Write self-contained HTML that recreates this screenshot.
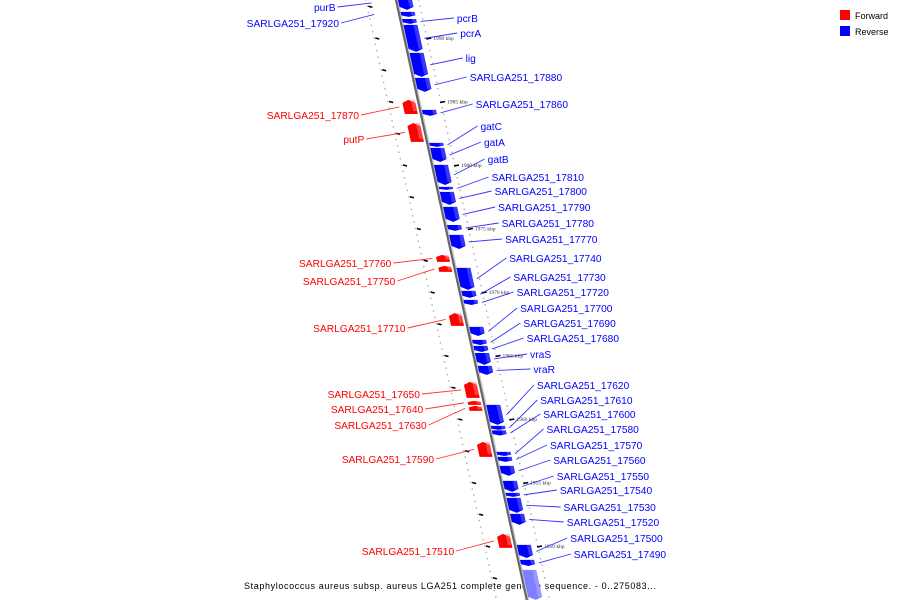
<!DOCTYPE html>
<html><head><meta charset="utf-8">
<style>
html,body{margin:0;padding:0;background:#fff;}
svg{display:block;font-family:"Liberation Sans","DejaVu Sans",sans-serif;}
</style></head>
<body>
<svg id="map" width="900" height="600" viewBox="0 0 900 600" xmlns="http://www.w3.org/2000/svg">
  <g>
    <rect x="840" y="10" width="10" height="10" fill="#ff0000"/>
    <text x="855" y="19" font-size="9" fill="#000">Forward</text>
    <rect x="840" y="26" width="10" height="10" fill="#0000ff"/>
    <text x="855" y="35" font-size="9" fill="#000">Reverse</text>
  </g>
  <text x="244" y="589" font-size="9" textLength="412" lengthAdjust="spacing" fill="#000">Staphylococcus aureus subsp. aureus LGA251 complete genome sequence. - 0..275083...</text>
</svg>
<script>
const geneNames = ["purB","SARLGA251_17920","pcrB","pcrA","lig","SARLGA251_17880","SARLGA251_17860","gatC","gatA","gatB","SARLGA251_17810","SARLGA251_17800","SARLGA251_17790","SARLGA251_17780","SARLGA251_17770","SARLGA251_17740","SARLGA251_17730","SARLGA251_17720","SARLGA251_17700","SARLGA251_17690","SARLGA251_17680","vraS","vraR","SARLGA251_17620","SARLGA251_17610","SARLGA251_17600","SARLGA251_17580","SARLGA251_17570","SARLGA251_17560","SARLGA251_17550","SARLGA251_17540","SARLGA251_17530","SARLGA251_17520","SARLGA251_17500","SARLGA251_17490","",
"SARLGA251_17870","putP","SARLGA251_17760","SARLGA251_17750","SARLGA251_17710","SARLGA251_17650","SARLGA251_17640","SARLGA251_17630","SARLGA251_17590","SARLGA251_17510"];
const geneStrand = ["-","-","-","-","-","-","-","-","-","-","-","-","-","-","-","-","-","-","-","-","-","-","-","-","-","-","-","-","-","-","-","-","-","-","-","-",
"+","+","+","+","+","+","+","+","+","+"];
const labelSide = ["L","L","R","R","R","R","R","R","R","R","R","R","R","R","R","R","R","R","R","R","R","R","R","R","R","R","R","R","R","R","R","R","R","R","R","R",
"L","L","L","L","L","L","L","L","L","L"];
const geneStart = [1993.31,1992.06,1991.50,1991.03,1988.83,1986.86,1984.34,1981.74,1981.35,1980.01,1978.28,1977.88,1976.70,1975.28,1974.50,1971.90,1970.09,1969.38,1967.25,1966.23,1965.76,1965.20,1964.18,1961.11,1959.46,1959.10,1957.41,1957.02,1956.31,1955.13,1954.18,1953.79,1952.53,1950.09,1948.91,1948.12,
1985.13,1983.31,1972.92,1972.06,1968.35,1962.92,1961.43,1961.03,1958.20,1950.95];
const geneEnd = [1992.21,1991.66,1991.11,1988.91,1986.94,1985.76,1983.87,1981.43,1980.24,1978.43,1978.04,1976.86,1975.52,1974.81,1973.39,1970.17,1969.54,1968.98,1966.54,1965.83,1965.28,1964.26,1963.47,1959.54,1959.14,1958.70,1957.09,1956.62,1955.52,1954.26,1953.87,1952.61,1951.66,1949.06,1948.43,1945.76,
1984.02,1981.82,1972.37,1971.58,1967.33,1961.66,1961.11,1960.64,1957.02,1949.85];
const scaleTicks = [1990,1985,1980,1975,1970,1965,1960,1955,1950];

// label row layout (text placement rows, px)
const LABEL_ROWS_RIGHT=[18,33,58,77,104,126,142,159,177,191,207,223,239,258,277,292,308,323,338,354,369,385,400,414,429,445,460,476,490,507,522,538,554];
const LABEL_ROWS_LEFT=[7,23,115,139,263,281,328,394,409,425,459,551];

const NS="http://www.w3.org/2000/svg";
const svg=document.getElementById('map');
function yOf(k){return 38+(1990-k)*12.7;}
function lineX(y){return 396+0.218*y;}
function mk(tag,attrs,parent){const e=document.createElementNS(NS,tag);for(const a in attrs)e.setAttribute(a,attrs[a]);(parent||svg).appendChild(e);return e;}

const gDots=mk('g',{});


for(let k=1994;k>=1944;k-=0.5){
  const y=yOf(k); if(y<-5||y>605)continue;
  const x=lineX(y);
  const d1=mk('rect',{x:x-31,y:y-0.7,width:1.4,height:1.4,fill:'#aaa'},gDots);
  
  
  const d2=mk('rect',{x:x+22,y:y-0.7,width:1.4,height:1.4,fill:'#aaa'},gDots);
  
  
}
for(let k=1992.5;k>=1944;k-=2.5){
  const y=yOf(k); if(y<0||y>600)continue;
  const x=lineX(y);
  const t=mk('line',{x1:x-29,y1:y,x2:x-25,y2:y+1,stroke:'#000','stroke-width':1.6},gDots);
  
  
}
scaleTicks.forEach(k=>{
  const y=yOf(k); const x=lineX(y);
  const t=mk('line',{x1:x+22,y1:y+1,x2:x+27,y2:y,stroke:'#000','stroke-width':1.6});
  
  
  const tx=mk('text',{x:x+29,y:y+2,'font-size':5.5,'font-family':'Liberation Serif, serif',fill:'#333'});
  tx.textContent=k+' kbp';
  
  
});

const bb2=mk('line',{x1:lineX(-5)+1.5,y1:-5,x2:lineX(605)+1.5,y2:605,stroke:'#ccc','stroke-width':2});


const bb=mk('line',{x1:lineX(-5),y1:-5,x2:lineX(605),y2:605,stroke:'#666','stroke-width':2.2});



const genePos=[];
for(let i=0;i<geneNames.length;i++){
  const y0=yOf(geneStart[i]), y1=yOf(geneEnd[i]);
  const fwd=geneStrand[i]==='+';
  const g=mk('g',{});
  
  
  const h=y1-y0, cap=Math.min(3,h*0.3);
  let a,b,fill,light;
  if(fwd){a=-16;b=-3;fill='#ff0000';light='#ff8080';}else{a=2;b=16;fill= geneNames[i]? '#0000ff':'#8080ff';light=geneNames[i]?'#6b6bff':'#b0b0ff';}
  const X=(y,o)=>lineX(y)+o;
  let pts;
  if(fwd){
    pts=[[X(y0+cap,a),y0+cap],[X(y0,(a+b)/2),y0],[X(y0+cap,b),y0+cap],[X(y1,b),y1],[X(y1,a),y1]];
  } else {
    pts=[[X(y0,a),y0],[X(y0,b),y0],[X(y1-cap,b),y1-cap],[X(y1,(a+b)/2),y1],[X(y1-cap,a),y1-cap]];
  }
  mk('polygon',{points:pts.map(p=>p.join(',')).join(' '),fill:fill},g);
  const side=mk('polygon',{points:[[X(y0,b-4),y0],[X(y0,b),y0],[X(y1-cap,b),y1-cap],[X(y1-cap,b-4),y1-cap]].map(p=>p.join(',')).join(' '),fill:light,opacity:0.5},g);
  
  
  genePos.push((y0+y1)/2);
}

let ri=0, li=0;
geneNames.forEach((n,i)=>{
  if(!n)return;
  const fwd=geneStrand[i]==='+';
  const col=fwd?'#ff0000':'#0000ff';
  const gy=genePos[i];
  if(labelSide[i]==='R'){
    const ly=LABEL_ROWS_RIGHT[ri++];
    const lx=lineX(ly)+57;
    const ln=mk('line',{x1:lineX(gy)+20,y1:gy,x2:lx-3,y2:ly,stroke:col,'stroke-width':0.9,opacity:0.8});
    
    
    const t=mk('text',{x:lx,y:ly+4,'font-size':10.2,fill:col});
    t.textContent=n;
    
    
  } else {
    const ly=LABEL_ROWS_LEFT[li++];
    const lx=lineX(ly)-62;
    const ln=mk('line',{x1:lineX(gy)-(fwd?20:25),y1:gy,x2:lx+2,y2:ly,stroke:col,'stroke-width':0.9,opacity:0.8});
    
    
    const t=mk('text',{x:lx,y:ly+4,'font-size':10.2,fill:col,'text-anchor':'end'});
    t.textContent=n;
    
    
  }
});
</script>
</body></html>
